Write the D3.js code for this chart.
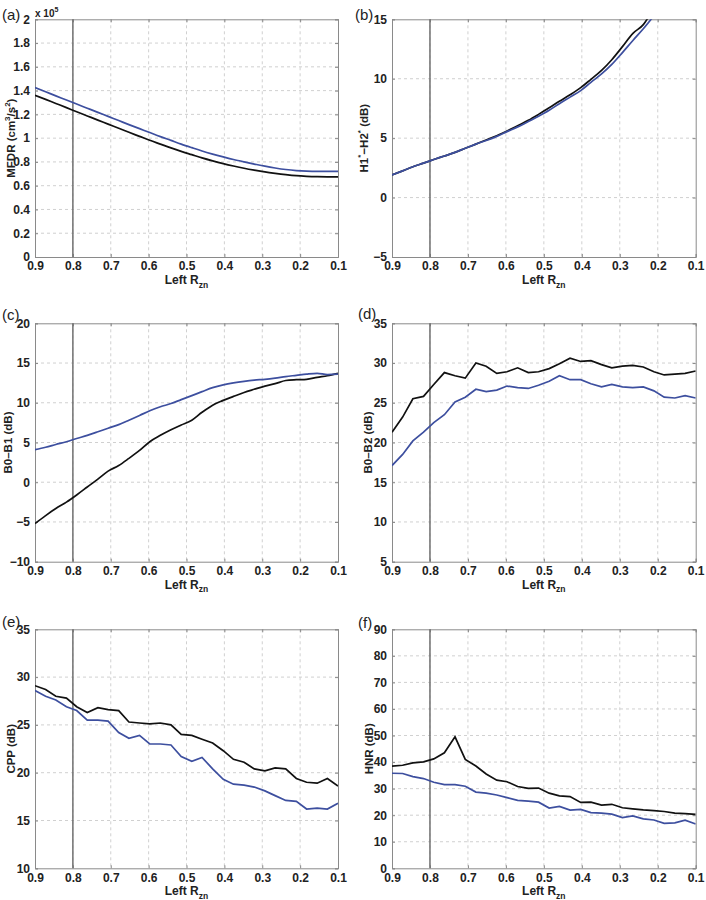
<!DOCTYPE html>
<html>
<head>
<meta charset="utf-8">
<script src="https://cdn.jsdelivr.net/npm/d3@7"></script>
<style>
  html, body { margin: 0; padding: 0; background: #fff; }
  svg { display: block; }
  text { font-family: "Liberation Sans", Arial, Helvetica, sans-serif; }
</style>
</head>
<body>
<svg id="chart" width="706" height="900"></svg>
<script>
// ---------------- DATA ----------------
const leftRzn = [0.900, 0.872, 0.845, 0.817, 0.790, 0.762, 0.734, 0.707, 0.679, 0.652,
                 0.624, 0.597, 0.569, 0.541, 0.514, 0.486, 0.459, 0.431, 0.403, 0.376,
                 0.348, 0.321, 0.293, 0.266, 0.238, 0.210, 0.183, 0.155, 0.128, 0.100];

const xTicks = [0.9, 0.8, 0.7, 0.6, 0.5, 0.4, 0.3, 0.2, 0.1];
const markerRzn = 0.8;

// (a) MFDR, in units of 1e5 cm^3/s^2
const mfdrBlack = [1.360, 1.326, 1.292, 1.257, 1.222, 1.187, 1.152, 1.118, 1.083, 1.049,
                   1.015, 0.982, 0.950, 0.918, 0.889, 0.861, 0.834, 0.809, 0.786, 0.766,
                   0.747, 0.731, 0.716, 0.704, 0.693, 0.684, 0.679, 0.676, 0.675, 0.675];
const mfdrBlue  = [1.425, 1.390, 1.356, 1.321, 1.287, 1.252, 1.217, 1.183, 1.148, 1.114,
                   1.080, 1.047, 1.013, 0.981, 0.950, 0.920, 0.892, 0.866, 0.842, 0.820,
                   0.800, 0.782, 0.764, 0.749, 0.736, 0.727, 0.722, 0.720, 0.720, 0.720];
const mfdrTicks = [0, 0.2, 0.4, 0.6, 0.8, 1, 1.2, 1.4, 1.6, 1.8, 2];

// (b) H1*-H2* (dB)
const h1h2Black = [1.9, 2.25, 2.6, 2.9, 3.2, 3.5, 3.8, 4.15, 4.5, 4.85,
                   5.2, 5.6, 6.05, 6.5, 7.0, 7.55, 8.1, 8.65, 9.25, 9.95,
                   10.7, 11.6, 12.7, 13.8, 14.55, 16.0, null, null, null, null];
const h1h2Blue  = [1.9, 2.25, 2.6, 2.9, 3.2, 3.5, 3.8, 4.15, 4.5, 4.8,
                   5.15, 5.55, 5.95, 6.4, 6.85, 7.35, 7.9, 8.45, 9.0, 9.7,
                   10.4, 11.2, 12.2, 13.2, 14.2, 15.3, null, null, null, null];
const h1h2Ticks = [-5, 0, 5, 10, 15];

// (c) B0-B1 (dB)
const b0b1Black = [-5.2, -4.2, -3.3, -2.5, -1.6, -0.6, 0.4, 1.4, 2.1, 3.0,
                   4.0, 5.1, 5.9, 6.6, 7.2, 7.8, 8.8, 9.7, 10.3, 10.8,
                   11.3, 11.7, 12.1, 12.4, 12.8, 12.9, 12.95, 13.2, 13.4, 13.7];
const b0b1Blue  = [4.1, 4.4, 4.75, 5.1, 5.5, 5.9, 6.35, 6.8, 7.25, 7.8,
                   8.4, 9.0, 9.5, 9.9, 10.4, 10.9, 11.4, 11.9, 12.25, 12.5,
                   12.7, 12.85, 12.95, 13.1, 13.3, 13.45, 13.6, 13.7, 13.55, 13.6];
const b0b1Ticks = [-10, -5, 0, 5, 10, 15, 20];

// (d) B0-B2 (dB)
const b0b2Black = [21.3, 23.2, 25.5, 25.8, 27.3, 28.8, 28.4, 28.1, 30.0, 29.6,
                   28.7, 28.9, 29.4, 28.8, 28.9, 29.3, 29.9, 30.6, 30.2, 30.3,
                   29.8, 29.4, 29.6, 29.7, 29.5, 28.9, 28.5, 28.6, 28.7, 29.0];
const b0b2Blue  = [17.1, 18.5, 20.2, 21.3, 22.5, 23.5, 25.1, 25.7, 26.7, 26.4,
                   26.6, 27.1, 26.9, 26.8, 27.2, 27.7, 28.4, 27.9, 27.9, 27.4,
                   27.0, 27.3, 27.0, 26.9, 27.0, 26.5, 25.7, 25.6, 25.9, 25.6];
const b0b2Ticks = [5, 10, 15, 20, 25, 30, 35];

// (e) CPP (dB)
const cppBlack = [29.1, 28.7, 28.0, 27.8, 26.9, 26.3, 26.8, 26.6, 26.5, 25.3,
                  25.2, 25.1, 25.2, 25.0, 24.0, 23.9, 23.5, 23.1, 22.3, 21.4,
                  21.1, 20.4, 20.2, 20.5, 20.4, 19.4, 19.0, 18.9, 19.4, 18.6];
const cppBlue  = [28.6, 28.0, 27.6, 26.9, 26.5, 25.5, 25.5, 25.4, 24.2, 23.6,
                  23.9, 23.0, 23.0, 22.9, 21.7, 21.2, 21.6, 20.4, 19.3, 18.8,
                  18.7, 18.5, 18.1, 17.6, 17.1, 17.0, 16.2, 16.3, 16.2, 16.8];
const cppTicks = [10, 15, 20, 25, 30, 35];

// (f) HNR (dB)
const hnrBlack = [38.5, 38.8, 39.7, 40.1, 41.2, 43.5, 49.5, 41.0, 38.5, 35.5,
                  33.2, 32.6, 30.8, 30.1, 30.2, 28.3, 27.3, 27.0, 24.8, 24.9,
                  23.8, 24.1, 22.8, 22.4, 22.0, 21.7, 21.4, 20.8, 20.6, 20.3];
const hnrBlue  = [35.8, 35.7, 34.5, 33.8, 32.4, 31.5, 31.5, 30.9, 28.7, 28.3,
                  27.6, 26.6, 25.6, 25.3, 24.9, 22.7, 23.3, 21.9, 22.2, 21.0,
                  20.8, 20.4, 19.1, 19.7, 18.6, 18.2, 16.9, 17.1, 18.1, 16.7];
const hnrTicks = [0, 10, 20, 30, 40, 50, 60, 70, 80, 90];

const panelLetters = ["(a)", "(b)", "(c)", "(d)", "(e)", "(f)"];

// ---------------- LAYOUT ----------------
const colBlack = "#111111";
const colBlue = "#3d4f9f";

const panels = [
  { letter: panelLetters[0], black: mfdrBlack, blue: mfdrBlue, ticks: mfdrTicks,
    box: {l: 35, r: 338, t: 19.3, b: 257}, smooth: true, fmt: d => d3.format("~g")(d),
    title: [["MFDR (cm",0],["3",1],["/s",0],["2",1],[")",0]], titleX: 15, exp: true, lx: 2, ly: 20 },
  { letter: panelLetters[1], black: h1h2Black, blue: h1h2Blue, ticks: h1h2Ticks,
    box: {l: 392, r: 695.7, t: 19.3, b: 257}, smooth: true, fmt: d => d < 0 ? "\u2212" + Math.abs(d) : d,
    title: [["H1",0],["*",1],["\u2212H2",0],["*",1],[" (dB)",0]], titleX: 368, lx: 355, ly: 20 },
  { letter: panelLetters[2], black: b0b1Black, blue: b0b1Blue, ticks: b0b1Ticks,
    box: {l: 35, r: 338, t: 323.3, b: 561.7}, smooth: true, fmt: d => d < 0 ? "\u2212" + Math.abs(d) : d,
    title: [["B0\u2013B1 (dB)",0]], titleX: 12, lx: 2, ly: 320 },
  { letter: panelLetters[3], black: b0b2Black, blue: b0b2Blue, ticks: b0b2Ticks,
    box: {l: 392, r: 695.7, t: 323.3, b: 561.7}, smooth: false, fmt: d => d,
    title: [["B0\u2013B2 (dB)",0]], titleX: 372, lx: 358, ly: 319 },
  { letter: panelLetters[4], black: cppBlack, blue: cppBlue, ticks: cppTicks,
    box: {l: 35, r: 338, t: 629.3, b: 868.3}, smooth: false, fmt: d => d,
    title: [["CPP (dB)",0]], titleX: 15, lx: 2, ly: 627 },
  { letter: panelLetters[5], black: hnrBlack, blue: hnrBlue, ticks: hnrTicks,
    box: {l: 392, r: 695.7, t: 629.3, b: 868.3}, smooth: false, fmt: d => d,
    title: [["HNR (dB)",0]], titleX: 373, lx: 358, ly: 628 }
];

const svg = d3.select("#chart");
const defs = svg.append("defs");

panels.forEach((p, i) => {
  const B = p.box;
  const x = d3.scaleLinear().domain([0.9, 0.1]).range([B.l, B.r]);
  const yDom = d3.extent(p.ticks);
  const y = d3.scaleLinear().domain(yDom).range([B.b, B.t]);
  const g = svg.append("g");

  const clipId = "clip" + i;
  defs.append("clipPath").attr("id", clipId)
    .append("rect").attr("x", B.l).attr("y", B.t).attr("width", B.r - B.l).attr("height", B.b - B.t);

  // grid
  const grid = g.append("g").attr("stroke", "#c4c4c4").attr("stroke-width", 0.8)
    .attr("stroke-dasharray", "3,3");
  grid.selectAll("line.gx").data(xTicks.slice(1, -1)).enter().append("line")
    .attr("x1", d => x(d)).attr("x2", d => x(d)).attr("y1", B.t).attr("y2", B.b);
  grid.selectAll("line.gy").data(p.ticks.slice(1, -1)).enter().append("line")
    .attr("x1", B.l).attr("x2", B.r).attr("y1", d => y(d)).attr("y2", d => y(d));

  // axes with d3 axis generator (inward ticks)
  const xAxis = g.append("g").attr("transform", `translate(0,${B.b})`)
    .call(d3.axisBottom(x).tickValues(xTicks).tickSize(-3).tickPadding(5).tickFormat(d3.format(".1f")));
  const yAxis = g.append("g").attr("transform", `translate(${B.l},0)`)
    .call(d3.axisLeft(y).tickValues(p.ticks).tickSize(-3).tickPadding(5).tickFormat(p.fmt));
  g.append("g").attr("transform", `translate(0,${B.t})`)
    .call(d3.axisTop(x).tickValues(xTicks).tickSize(-3).tickFormat(""));
  g.append("g").attr("transform", `translate(${B.r},0)`)
    .call(d3.axisRight(y).tickValues(p.ticks).tickSize(-3).tickFormat(""));

  g.selectAll(".domain").attr("stroke", "#8a8a8a").attr("stroke-width", 1);
  g.selectAll(".tick line").attr("stroke", "#8a8a8a");
  xAxis.selectAll("text").attr("font-size", 12).attr("font-weight", "bold").attr("fill", "#222")
    .attr("dy", "0.7em");
  yAxis.selectAll("text").attr("font-size", 12).attr("font-weight", "bold").attr("fill", "#222");

  // marker line at Rzn = 0.8
  g.append("line").attr("x1", x(markerRzn)).attr("x2", x(markerRzn))
    .attr("y1", B.t).attr("y2", B.b).attr("stroke", "#707070").attr("stroke-width", 1.5);

  // series
  const line = d3.line()
    .defined(d => d[1] !== null)
    .x(d => x(d[0])).y(d => y(d[1]))
    .curve(p.smooth ? d3.curveMonotoneX : d3.curveLinear);
  const lines = g.append("g").attr("clip-path", `url(#${clipId})`);
  lines.append("path").datum(leftRzn.map((v, k) => [v, p.black[k]]))
    .attr("d", line).attr("fill", "none").attr("stroke", colBlack).attr("stroke-width", 1.7);
  lines.append("path").datum(leftRzn.map((v, k) => [v, p.blue[k]]))
    .attr("d", line).attr("fill", "none").attr("stroke", colBlue).attr("stroke-width", 1.7);

  // x title
  const xt = g.append("text").attr("x", (B.l + B.r) / 2).attr("y", B.b + 27)
    .attr("text-anchor", "middle").attr("font-size", 12).attr("font-weight", "bold").attr("fill", "#222");
  xt.append("tspan").text("Left R");
  xt.append("tspan").text("zn").attr("font-size", 8.5).attr("dy", 3.5);

  // y title
  const yt = g.append("text")
    .attr("transform", `translate(${p.titleX},${(B.t + B.b) / 2}) rotate(-90)`)
    .attr("text-anchor", "middle").attr("font-size", 11.5).attr("font-weight", "bold").attr("fill", "#222");
  let raised = false;
  p.title.forEach(([s, sup]) => {
    const ts = yt.append("tspan").text(s);
    if (sup && !raised) { ts.attr("dy", -5).attr("font-size", 8); raised = true; }
    else if (!sup && raised) { ts.attr("dy", 5); raised = false; }
    else if (sup) { ts.attr("font-size", 8); }
  });

  // panel letter
  g.append("text").attr("x", p.lx).attr("y", p.ly).attr("font-size", 15).attr("fill", "#222").text(p.letter);

  // exponent label
  if (p.exp) {
    const ex = g.append("text").attr("x", B.l).attr("y", B.t - 2).attr("font-size", 10)
      .attr("font-weight", "bold").attr("fill", "#222");
    ex.append("tspan").text("x 10");
    ex.append("tspan").text("5").attr("font-size", 7).attr("dy", -5);
  }
});
</script>
</body>
</html>
